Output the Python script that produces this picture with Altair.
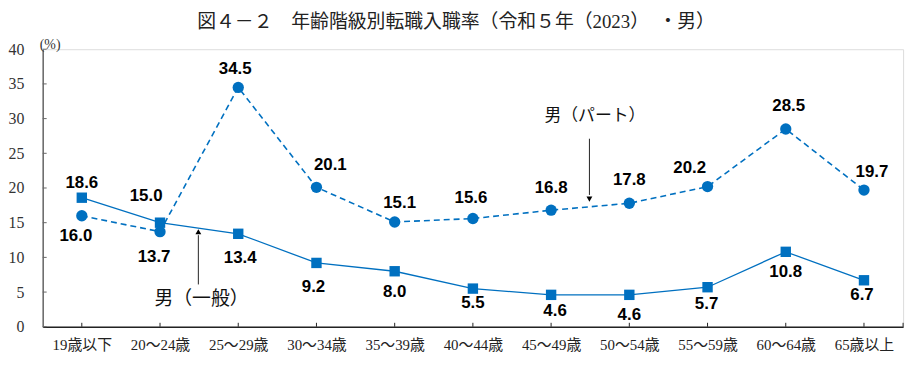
import altair as alt
import pandas as pd

categories = ["19歳以下", "20～24歳", "25～29歳", "30～34歳", "35～39歳", "40～44歳",
              "45～49歳", "50～54歳", "55～59歳", "60～64歳", "65歳以上"]
part_rate = [16.0, 13.7, 34.5, 20.1, 15.1, 15.6, 16.8, 17.8, 20.2, 28.5, 19.7]
general_rate = [18.6, 15.0, 13.4, 9.2, 8.0, 5.5, 4.6, 4.6, 5.7, 10.8, 6.7]
y_ticks = [0, 5, 10, 15, 20, 25, 30, 35, 40]

title_text = "図４－２　年齢階級別転職入職率（令和５年（2023）　・男）"
part_name = "男（パート）"
general_name = "男（一般）"

# label placement offsets (pixels)
part_dx = [-6, -6, -3, 14, 5, -2, 0, 0, -18, 3, 8]
part_dy = [20, 26, -19, -22, -19, -21, -22, -23, -19, -23, -18]
gen_dx = [0, -14, 2, -3, 0, 0, 4, 0, -1, 0, -2]
gen_dy = [-15, -27, 24, 24, 21, 15, 16, 20, 17, 20, 15]

W, H = 868, 280
YMAX = 40
PX_Y = H / YMAX
PX_X = W / len(categories)
BLUE = "#0070C0"
SERIF = "Liberation Serif, Noto Sans CJK JP"
CJK = "Noto Sans CJK JP"

n = len(categories)
idx = list(range(n))
df = pd.DataFrame({
    "idx": idx * 2,
    "cat": categories * 2,
    "value": part_rate + general_rate,
    "series": [part_name] * n + [general_name] * n,
    "dx": part_dx + gen_dx,
    "dy": part_dy + gen_dy,
})
df["lx"] = df["idx"] + df["dx"] / PX_X
df["ly"] = df["value"] - df["dy"] / PX_Y
df["label"] = df["value"].map(lambda v: f"{v:.1f}")

js_cats = "[" + ",".join(f"'{c}'" for c in categories) + "]"
xscale = alt.Scale(domain=[-0.5, n - 0.5], nice=False, zero=False)
yscale = alt.Scale(domain=[0, YMAX], nice=False)

xaxis = alt.Axis(values=idx, labelExpr=f"{js_cats}[datum.value]", ticks=False, grid=False,
                 domainColor="#222", domainWidth=1.5, labelFont=SERIF, labelFontSize=15,
                 labelColor="#222", labelPadding=11, labelOverlap=False, title=None)
yaxis = alt.Axis(values=y_ticks, ticks=False, grid=False, domainColor="#666", domainWidth=1.5,
                 labelFont=SERIF, labelFontSize=16, labelColor="#333", labelPadding=19,
                 labelOverlap=False,
                 title="(%)", titleAngle=0, titleFont=SERIF, titleFontSize=14,
                 titleFontWeight="normal", titleColor="#333", titleX=7, titleY=-5,
                 titleAlign="center", titleBaseline="middle")

X = lambda f: alt.X(f, scale=xscale, axis=xaxis)
Y = lambda f: alt.Y(f, scale=yscale, axis=yaxis)

base = alt.Chart(df)

line_gen = base.transform_filter(alt.datum.series == general_name).mark_line(
    color=BLUE, strokeWidth=1.3).encode(x=X("idx:Q"), y=Y("value:Q"))
pts_gen = base.transform_filter(alt.datum.series == general_name).mark_point(
    shape="square", filled=True, size=110, color=BLUE, opacity=1).encode(
    x=X("idx:Q"), y=Y("value:Q"))

line_part = base.transform_filter(alt.datum.series == part_name).mark_line(
    color=BLUE, strokeWidth=1.6, strokeDash=[6, 4]).encode(x=X("idx:Q"), y=Y("value:Q"))
pts_part = base.transform_filter(alt.datum.series == part_name).mark_point(
    shape="circle", filled=True, size=130, color=BLUE, opacity=1).encode(
    x=X("idx:Q"), y=Y("value:Q"))

labels = base.mark_text(font="Liberation Sans Narrow, Liberation Sans", fontSize=17,
                        fontWeight="bold", color="#000", baseline="middle").encode(
    x=X("lx:Q"), y=Y("ly:Q"), text="label:N")

ytick_df = pd.DataFrame({"v": y_ticks})
yticks = alt.Chart(ytick_df).mark_rule(color="#666", strokeWidth=1).encode(
    x=alt.value(0), x2=alt.value(4), y=Y("v:Q"))
xtick_df = pd.DataFrame({"i": idx + [n - 0.5]})
xticks = alt.Chart(xtick_df).mark_rule(color="#222", strokeWidth=1).encode(
    x=X("i:Q"), y=alt.value(H), y2=alt.value(H - 4))

# annotations
ann_df = pd.DataFrame({
    "x": [6.49, 1.49],
    "y1": [27.1, 6.1],
    "y2": [19.0, 13.2],
    "hy": [18.4, 13.7],
    "shape": ["triangle-down", "triangle-up"],
    "tx": [6.56, 1.53],
    "ty": [30.4, 4.0],
    "text": [part_name, general_name],
    "fs": [17, 19],
})
arrows = alt.Chart(ann_df).mark_rule(color="#222", strokeWidth=1).encode(
    x=X("x:Q"), y=Y("y1:Q"), y2="y2:Q")
heads = alt.Chart(ann_df).mark_point(filled=True, size=35, color="#000", opacity=1).encode(
    x=X("x:Q"), y=Y("hy:Q"), shape=alt.Shape("shape:N", scale=None))
ann_text = alt.Chart(ann_df).mark_text(font=CJK, color="#111", baseline="middle").encode(
    x=X("tx:Q"), y=Y("ty:Q"), text="text:N", size=alt.Size("fs:Q", scale=None))

chart = alt.layer(line_gen, line_part, yticks, xticks, pts_gen, pts_part, labels,
                  arrows, heads, ann_text).properties(
    width=W, height=H, autosize=alt.AutoSizeParams(type="none"),
    padding={"left": 35, "top": 40, "right": 10, "bottom": 38},
    title=alt.TitleParams(title_text, font=SERIF, fontSize=19, fontWeight="normal",
                          color="#222", anchor="middle", frame="group", dx=-17,
                          offset=-14, baseline="bottom"),
).configure_view(stroke=None).configure(background="white")

chart.save("out.html", embed_options={"renderer": "svg", "actions": False})
